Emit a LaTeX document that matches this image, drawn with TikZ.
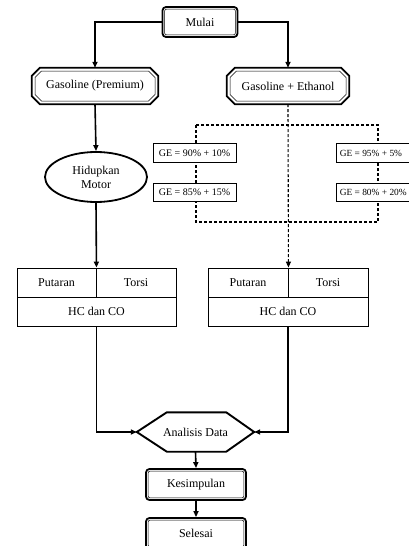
\documentclass[tikz,border=0pt]{standalone}
\usepackage{fontspec}
\setmainfont{Liberation Serif}
\usetikzlibrary{shapes.geometric,arrows.meta,calc}
\newcommand\octbox[4]{%
  \draw[#4] ($(#1.north west)+(#2+#3,#2)$) -- ($(#1.north east)+(-#2-#3,#2)$)
   -- ($(#1.north east)+(-#2,#2+#3)$) -- ($(#1.south east)+(-#2,-#2-#3)$)
   -- ($(#1.south east)+(-#2-#3,-#2)$) -- ($(#1.south west)+(#2+#3,-#2)$)
   -- ($(#1.south west)+(#2,-#2-#3)$) -- ($(#1.north west)+(#2,#2+#3)$) -- cycle;}
\newcommand\innerround[1]{%
  \draw[line width=0.5pt, rounded corners=2pt] ($(#1.north west)+(3,3)$) rectangle ($(#1.south east)+(-3,-3)$);}
\begin{document}
\begin{tikzpicture}[x=1pt,y=-1pt,
  conn/.style={line width=1.6pt, -{Triangle[length=6pt,width=5pt]}},
  dconn/.style={line width=1.1pt, dash pattern=on 3pt off 2pt},
  txt/.style={font=\fontsize{12}{14}\selectfont, inner sep=0pt},
  rbox/.style={txt, draw, rounded corners=3.5pt, line width=1.8pt, minimum height=30pt},
  hbox/.style={txt, minimum height=36pt},
  gebox/.style={draw, fill=white, line width=0.9pt, inner sep=0pt, minimum height=18.5pt, font=\fontsize{10}{12}\selectfont},
  getxt/.style={inner sep=0pt, anchor=west, font=\fontsize{9.4}{11}\selectfont},
  cell/.style={txt, draw, line width=0.9pt, minimum height=29pt},
]
\useasboundingbox (0,0) rectangle (409,546);
\clip (0,0) rectangle (409,546);

% start
\node[rbox, minimum width=75pt] (mulai) at (200,22) {Mulai};
\innerround{mulai}

% fuel branches
\node[hbox, minimum width=126pt] (gp) at (95,86) {Gasoline (Premium)};
\octbox{gp}{0}{8}{line width=1.8pt}
\octbox{gp}{3.2}{6.5}{line width=0.5pt}
\node[hbox, minimum width=122pt] (ge) at (288,86) {Gasoline + Ethanol};
\octbox{ge}{0}{8}{line width=1.8pt}
\octbox{ge}{3.2}{6.5}{line width=0.5pt}

\draw[conn] (mulai.west) -| (gp.north);
\draw[conn] (mulai.east) -| (ge.north);

% engine
\node[txt, draw, ellipse, line width=1.8pt, minimum width=102pt, minimum height=50pt, align=center] (hm) at (96,177) {Hidupkan\\Motor};
\draw[conn] (gp.south) -- (hm.north);

% dashed mixing frame
\coordinate (dtl) at (196,125);
\coordinate (dbr) at (378,222);
\draw[dconn] (dtl) rectangle (dbr);
\node[gebox, minimum width=83pt] (b1) at (194.5,153) {GE = 90\% + 10\%};
\node[gebox, minimum width=83pt] (b2) at (194.5,192.5) {GE = 85\% + 15\%};
\node[gebox, minimum width=86pt] (b3) at (379,153) {};
\node[gebox, minimum width=86pt] (b4) at (379,192.5) {};
\node[getxt] (b3t) at ($(b3.west)+(4,0)$) {GE = 95\% + 5\%};
\node[getxt] (b4t) at ($(b4.west)+(4,0)$) {GE = 80\% + 20\%};

% tables
\node[cell, minimum width=79pt] (lt1) at (56.5,282.5) {Putaran};
\node[cell, minimum width=80pt] (lt2) at (136,282.5) {Torsi};
\node[cell, minimum width=159pt] (lt3) at (96.5,311.5) {HC dan CO};
\node[cell, minimum width=80pt] (rt1) at (248,282.5) {Putaran};
\node[cell, minimum width=80pt] (rt2) at (328,282.5) {Torsi};
\node[cell, minimum width=160pt] (rt3) at (288,311.5) {HC dan CO};

\draw[conn] (hm.south) -- (lt1.north east);
\draw[dconn, -{Triangle[length=6pt,width=5pt]}] (ge.south) -- (rt1.north east);

% analysis
\node[txt, minimum width=117pt, minimum height=39pt] (ad) at (195.5,432) {Analisis Data};
\draw[line width=1.9pt, line join=miter] (ad.west) -- ($(ad.north west)+(30,0)$) -- ($(ad.north east)+(-28,0)$) -- (ad.east) -- ($(ad.south east)+(-28,0)$) -- ($(ad.south west)+(30,0)$) -- cycle;
\draw[conn] (lt3.south) |- (ad.west);
\draw[conn] (rt3.south) |- (ad.east);

% conclusion
\node[rbox, minimum width=100pt, minimum height=31pt] (kes) at (196,484.5) {Kesimpulan};
\innerround{kes}
\node[rbox, minimum width=100pt, minimum height=31pt] (sel) at (196,533.5) {Selesai};
\innerround{sel}
\draw[conn] (ad.south) -- (kes.north);
\draw[conn] (kes.south) -- (sel.north);
\end{tikzpicture}
\end{document}
